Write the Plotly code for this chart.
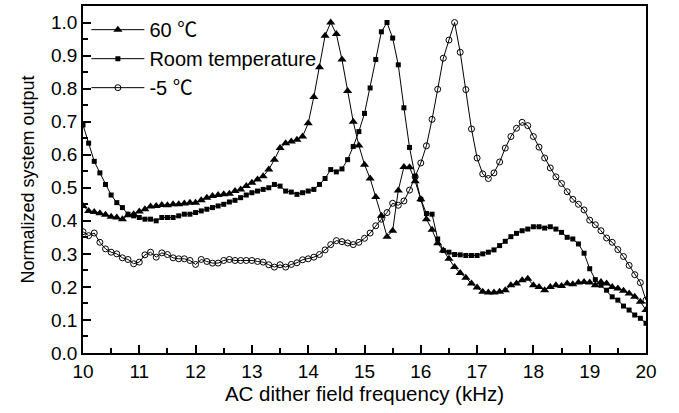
import numpy as np
import plotly.graph_objects as go

freq = [round(10 + 0.1 * i, 1) for i in range(101)]

out_60c = [
    0.445, 0.430, 0.427, 0.423, 0.418, 0.412, 0.410, 0.405, 0.417, 0.420,
    0.428, 0.435, 0.443, 0.445, 0.448, 0.447, 0.450, 0.450, 0.452, 0.455,
    0.455, 0.462, 0.470, 0.475, 0.478, 0.480, 0.482, 0.490, 0.495, 0.505,
    0.515, 0.525, 0.535, 0.555, 0.585, 0.620, 0.635, 0.640, 0.645, 0.655,
    0.695, 0.775, 0.865, 0.960, 1.000, 0.965, 0.888, 0.793, 0.700, 0.628,
    0.570, 0.528, 0.472, 0.415, 0.352, 0.370, 0.492, 0.563, 0.562, 0.520,
    0.465, 0.405, 0.373, 0.332, 0.310, 0.285, 0.260, 0.242, 0.228, 0.210,
    0.198, 0.185, 0.183, 0.183, 0.185, 0.190, 0.205, 0.210, 0.220, 0.225,
    0.205, 0.200, 0.190, 0.200, 0.205, 0.203, 0.210, 0.208, 0.213, 0.215,
    0.213, 0.205, 0.215, 0.210, 0.200, 0.195, 0.188, 0.180, 0.170, 0.155,
    0.130,
]

out_room = [
    0.690, 0.635, 0.580, 0.545, 0.510, 0.478, 0.455, 0.440, 0.420, 0.415,
    0.410, 0.405, 0.405, 0.400, 0.410, 0.410, 0.410, 0.415, 0.420, 0.420,
    0.425, 0.430, 0.435, 0.440, 0.445, 0.450, 0.457, 0.462, 0.470, 0.478,
    0.485, 0.490, 0.495, 0.500, 0.510, 0.505, 0.490, 0.487, 0.480, 0.485,
    0.490, 0.495, 0.510, 0.528, 0.555, 0.548, 0.557, 0.585, 0.625, 0.670,
    0.725, 0.802, 0.888, 0.972, 1.000, 0.953, 0.872, 0.742, 0.622, 0.535,
    0.465, 0.422, 0.420, 0.345, 0.310, 0.305, 0.298, 0.297, 0.295, 0.295,
    0.295, 0.300, 0.305, 0.312, 0.325, 0.338, 0.352, 0.362, 0.370, 0.375,
    0.382, 0.382, 0.378, 0.382, 0.375, 0.365, 0.350, 0.345, 0.330, 0.302,
    0.255, 0.222, 0.205, 0.190, 0.170, 0.160, 0.142, 0.130, 0.115, 0.105,
    0.090,
]

out_m5c = [
    0.367, 0.355, 0.363, 0.335, 0.315, 0.305, 0.300, 0.288, 0.283, 0.270,
    0.275, 0.297, 0.305, 0.290, 0.303, 0.298, 0.288, 0.285, 0.285, 0.280,
    0.268, 0.283, 0.277, 0.272, 0.272, 0.280, 0.283, 0.280, 0.280, 0.280,
    0.280, 0.277, 0.275, 0.267, 0.260, 0.267, 0.260, 0.268, 0.273, 0.282,
    0.285, 0.290, 0.298, 0.312, 0.328, 0.340, 0.337, 0.333, 0.328, 0.335,
    0.347, 0.363, 0.385, 0.405, 0.425, 0.453, 0.447, 0.460, 0.493, 0.533,
    0.575, 0.627, 0.707, 0.798, 0.892, 0.947, 1.000, 0.910, 0.797, 0.678,
    0.590, 0.542, 0.528, 0.545, 0.578, 0.620, 0.655, 0.680, 0.698, 0.688,
    0.655, 0.623, 0.590, 0.560, 0.533, 0.513, 0.488, 0.465, 0.450, 0.433,
    0.402, 0.388, 0.370, 0.348, 0.335, 0.313, 0.292, 0.265, 0.237, 0.213,
    0.160,
]

x_ticks = [10, 11, 12, 13, 14, 15, 16, 17, 18, 19, 20]
y_ticks = [0.0, 0.1, 0.2, 0.3, 0.4, 0.5, 0.6, 0.7, 0.8, 0.9, 1.0]

FONT = "Liberation Sans, Arial, sans-serif"
DEG = '<span style="font-family:\'Noto Sans CJK SC\'">℃</span>'

fig = go.Figure()
fig.add_trace(go.Scatter(
    x=freq, y=out_60c, name="60 " + DEG, mode="lines+markers",
    line=dict(color="black", width=1),
    marker=dict(symbol="triangle-up", size=8, color="black"),
))
fig.add_trace(go.Scatter(
    x=freq, y=out_room, name="Room temperature", mode="lines+markers",
    line=dict(color="black", width=1),
    marker=dict(symbol="square", size=5, color="black"),
))
fig.add_trace(go.Scatter(
    x=freq, y=out_m5c, name="-5 " + DEG, mode="lines+markers",
    line=dict(color="black", width=1),
    marker=dict(symbol="circle-open", size=6, color="black", line=dict(width=1)),
))

fig.update_layout(
    width=679, height=413,
    margin=dict(l=83, r=33, t=4, b=60),
    paper_bgcolor="white", plot_bgcolor="white",
    font=dict(family=FONT, size=18, color="black"),
    showlegend=True,
    legend=dict(
        x=0.006, y=0.988, xanchor="left", yanchor="top",
        bgcolor="rgba(0,0,0,0)", borderwidth=0,
        font=dict(family=FONT, size=20, color="black"),
        itemwidth=53, tracegroupgap=1,
    ),
)
fig.update_xaxes(
    range=[10, 20], tickvals=x_ticks, ticktext=[str(v) for v in x_ticks],
    ticks="inside", ticklen=8, tickwidth=1.5, tickcolor="black",
    minor=dict(dtick=0.5, ticks="inside", ticklen=5, tickwidth=1.5, tickcolor="black"),
    showline=True, linewidth=1.5, linecolor="black", mirror=True,
    showgrid=False, zeroline=False,
    tickfont=dict(family=FONT, size=19),
    title=dict(text="AC dither field frequency (kHz)", font=dict(family=FONT, size=20.5), standoff=3),
)
fig.update_yaxes(
    range=[0, 1.05], tickvals=y_ticks, ticktext=[f"{v:.1f}" for v in y_ticks],
    ticks="inside", ticklen=8, tickwidth=1.5, tickcolor="black",
    minor=dict(dtick=0.05, ticks="inside", ticklen=5, tickwidth=1.5, tickcolor="black"),
    showline=True, linewidth=1.5, linecolor="black", mirror=True,
    showgrid=False, zeroline=False,
    tickfont=dict(family=FONT, size=19),
    title=dict(text="Normalized system output", font=dict(family=FONT, size=18), standoff=12),
)

fig.write_html("out.html")
